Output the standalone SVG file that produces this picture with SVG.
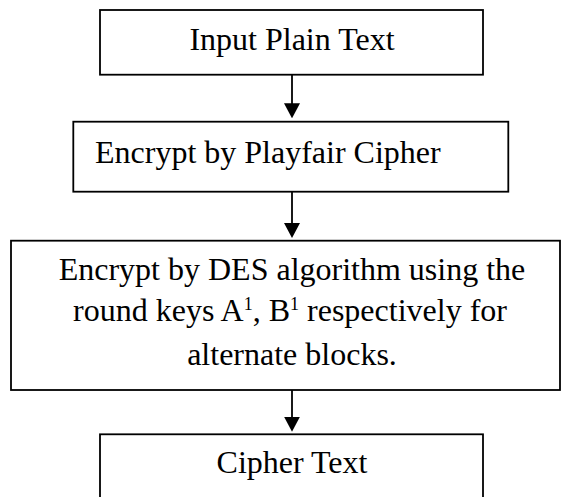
<svg xmlns="http://www.w3.org/2000/svg" width="561" height="497" viewBox="0 0 561 497">
  <style>
    .box { fill: #ffffff; stroke: #000000; stroke-width: 1.8; }
    .label { font-family: "Liberation Serif", "Times New Roman", serif; font-size: 32px; fill: #000000; }
    .mid { text-anchor: middle; }
    .sup { font-size: 18px; }
    .conn { stroke: #000000; stroke-width: 1.8; fill: none; marker-end: url(#arrowhead); }
  </style>
  <defs>
    <marker id="arrowhead" markerUnits="userSpaceOnUse" markerWidth="15" markerHeight="16" viewBox="0 0 15 16" refX="5" refY="8" orient="auto">
      <path d="M0,0 L15,8 L0,16 Z" fill="#000000"/>
    </marker>
  </defs>

  <rect x="0" y="0" width="561" height="497" fill="#ffffff"/>

  <g id="connectors">
    <line class="conn" x1="292" y1="74.7" x2="292" y2="108.3"/>
    <line class="conn" x1="292" y1="191.7" x2="292" y2="228"/>
    <line class="conn" x1="292" y1="390" x2="292" y2="421.7"/>
  </g>

  <g id="input-plain-text">
    <rect class="box" x="100" y="10" width="383" height="64.7"/>
    <text class="label mid" x="292" y="50">Input Plain Text</text>
  </g>

  <g id="playfair">
    <rect class="box" x="73.3" y="121.7" width="435" height="70"/>
    <text class="label" x="95" y="163">Encrypt by Playfair Cipher</text>
  </g>

  <g id="des">
    <rect class="box" x="11" y="240.7" width="549" height="149.3"/>
    <text class="label mid" x="292" y="279.5">Encrypt by DES algorithm using the</text>
    <text class="label mid" x="290" y="321">round keys A<tspan class="sup" dy="-11">1</tspan><tspan dy="11">, B</tspan><tspan class="sup" dy="-11">1</tspan><tspan dy="11"> respectively for</tspan></text>
    <text class="label mid" x="292" y="365">alternate blocks.</text>
  </g>

  <g id="cipher-text">
    <rect class="box" x="100" y="434.3" width="383" height="70"/>
    <text class="label mid" x="292" y="473">Cipher Text</text>
  </g>
</svg>
